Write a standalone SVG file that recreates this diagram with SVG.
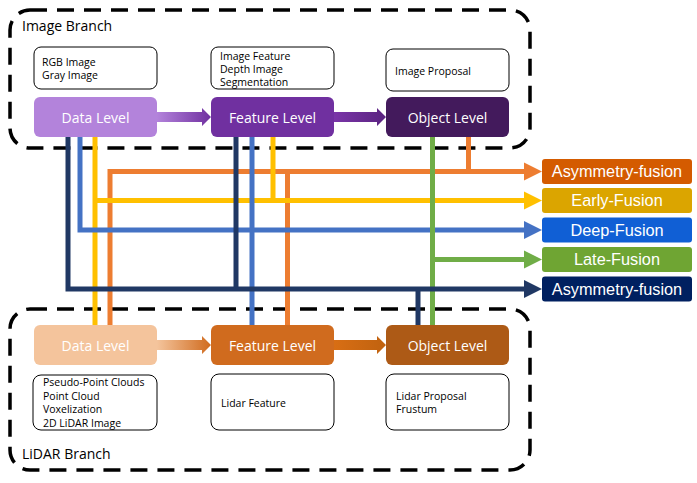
<svg xmlns="http://www.w3.org/2000/svg" width="697" height="483" viewBox="0 0 697 483">
<defs>
<style>
.branch{fill:none;stroke:#000;stroke-width:3.5;stroke-dasharray:17 10}
.info{fill:#fff;stroke:#000;stroke-width:1}
.lvl{font-family:"Open Sans","Noto Sans",sans-serif;font-size:14px;fill:#fff;text-anchor:middle}
.itx{font-family:"Open Sans","Noto Sans",sans-serif;font-size:10.5px;fill:#000}
.btx{font-family:"Open Sans","Noto Sans",sans-serif;font-size:14px;fill:#000}
.ftx{font-family:"Liberation Sans",Arial,sans-serif;font-size:16.3px;fill:#fff;text-anchor:middle}
.ln{fill:none;stroke-width:5}
.or{stroke:#ED7D31}.ye{stroke:#FFC000}.bl{stroke:#4472C4}.gr{stroke:#70AD47}.nv{stroke:#203864}
</style>
<linearGradient id="g1" x1="0" x2="1" y1="0" y2="0"><stop offset="0" stop-color="#B383DB"/><stop offset="1" stop-color="#7030A0"/></linearGradient>
<linearGradient id="g2" x1="0" x2="1" y1="0" y2="0"><stop offset="0" stop-color="#7A35A8"/><stop offset="1" stop-color="#5A2380"/></linearGradient>
<linearGradient id="g3" x1="0" x2="1" y1="0" y2="0"><stop offset="0" stop-color="#F4C49C"/><stop offset="1" stop-color="#D06B1E"/></linearGradient>
<linearGradient id="g4" x1="0" x2="1" y1="0" y2="0"><stop offset="0" stop-color="#D86E14"/><stop offset="1" stop-color="#C0620F"/></linearGradient>
</defs>

<g id="image-branch">
<rect class="branch" x="10" y="10" width="520" height="138" rx="20"/>
<text class="btx" x="22" y="31">Image Branch</text>
</g>
<g id="lidar-branch">
<rect class="branch" x="10" y="309" width="520" height="161" rx="20"/>
<text class="btx" x="22" y="459">LiDAR Branch</text>
</g>

<g id="img-data-info"><rect class="info" x="34" y="47" width="123" height="42" rx="7"/>
<text class="itx" x="42" y="66">RGB Image</text><text class="itx" x="42" y="79">Gray Image</text></g>
<g id="img-feat-info"><rect class="info" x="211" y="47" width="123" height="42" rx="7"/>
<text class="itx" x="220" y="60">Image Feature</text><text class="itx" x="220" y="73">Depth Image</text><text class="itx" x="220" y="86">Segmentation</text></g>
<g id="img-obj-info"><rect class="info" x="386" y="49" width="123" height="42" rx="7"/>
<text class="itx" x="395" y="75">Image Proposal</text></g>

<g id="lid-data-info"><rect class="info" x="33" y="375" width="124" height="55" rx="8"/>
<text class="itx" x="43" y="386">Pseudo-Point Clouds</text><text class="itx" x="43" y="400">Point Cloud</text><text class="itx" x="43" y="413">Voxelization</text><text class="itx" x="43" y="427">2D LiDAR Image</text></g>
<g id="lid-feat-info"><rect class="info" x="211" y="374" width="123" height="56" rx="8"/>
<text class="itx" x="221" y="407">Lidar Feature</text></g>
<g id="lid-obj-info"><rect class="info" x="386" y="374" width="123" height="56" rx="8"/>
<text class="itx" x="396" y="400">Lidar Proposal</text><text class="itx" x="396" y="413">Frustum</text></g>

<g id="connectors">
<path class="ln or" d="M287.5 325V171.5M468.5 137V171.5M110 325V171.5H525"/>
<path class="ln ye" d="M273 137V200.5M95 137V325M95 200.5H525"/>
<path class="ln bl" d="M252 137V325M80 137V230H525"/>
<path class="ln gr" d="M432.5 137V325M432.5 259.5H525"/>
<path class="ln nv" d="M236 137V289M418 325V289M68 137V289H525"/>
<polygon fill="#ED7D31" points="524,162.5 542,171.5 524,180.5"/>
<polygon fill="#FFC000" points="524,191.5 542,200.5 524,209.5"/>
<polygon fill="#4472C4" points="524,221 542,230 524,239"/>
<polygon fill="#70AD47" points="524,250.5 542,259.5 524,268.5"/>
<polygon fill="#203864" points="524,280 542,289 524,298"/>
<polygon fill="url(#g1)" points="157,112 202,112 202,108 211,117 202,126 202,122 157,122"/>
<polygon fill="url(#g2)" points="334,112 377,112 377,108 386,117 377,126 377,122 334,122"/>
<polygon fill="url(#g3)" points="157,340 202,340 202,336 211,345 202,354 202,350 157,350"/>
<polygon fill="url(#g4)" points="334,340 377,340 377,336 386,345 377,354 377,350 334,350"/>
</g>

<g id="img-data"><rect x="34" y="97" width="123" height="40" rx="6" fill="#B383DB"/><text class="lvl" x="95.5" y="122.5">Data Level</text></g>
<g id="img-feat"><rect x="211" y="97" width="123" height="40" rx="6" fill="#7030A0"/><text class="lvl" x="272.5" y="122.5">Feature Level</text></g>
<g id="img-obj"><rect x="386" y="97" width="123" height="40" rx="6" fill="#431A5C"/><text class="lvl" x="447.5" y="122.5">Object Level</text></g>
<g id="lid-data"><rect x="34" y="325" width="123" height="40" rx="6" fill="#F4C49C"/><text class="lvl" x="95.5" y="350.5">Data Level</text></g>
<g id="lid-feat"><rect x="211" y="325" width="123" height="40" rx="6" fill="#D06B1E"/><text class="lvl" x="272.5" y="350.5">Feature Level</text></g>
<g id="lid-obj"><rect x="386" y="325" width="123" height="40" rx="6" fill="#AD5A16"/><text class="lvl" x="447.5" y="350.5">Object Level</text></g>

<g id="asym1"><rect x="542" y="159" width="150" height="25" rx="3" fill="#D45B00"/><text class="ftx" x="617" y="177.3">Asymmetry-fusion</text></g>
<g id="early"><rect x="542" y="188" width="150" height="25" rx="3" fill="#DBA500"/><text class="ftx" x="617" y="206.3">Early-Fusion</text></g>
<g id="deep"><rect x="542" y="217.5" width="150" height="25" rx="3" fill="#105FD5"/><text class="ftx" x="617" y="235.8">Deep-Fusion</text></g>
<g id="late"><rect x="542" y="247" width="150" height="25" rx="3" fill="#6FA533"/><text class="ftx" x="617" y="265.3">Late-Fusion</text></g>
<g id="asym2"><rect x="542" y="276.5" width="150" height="25" rx="3" fill="#002060"/><text class="ftx" x="617" y="294.8">Asymmetry-fusion</text></g>
</svg>
